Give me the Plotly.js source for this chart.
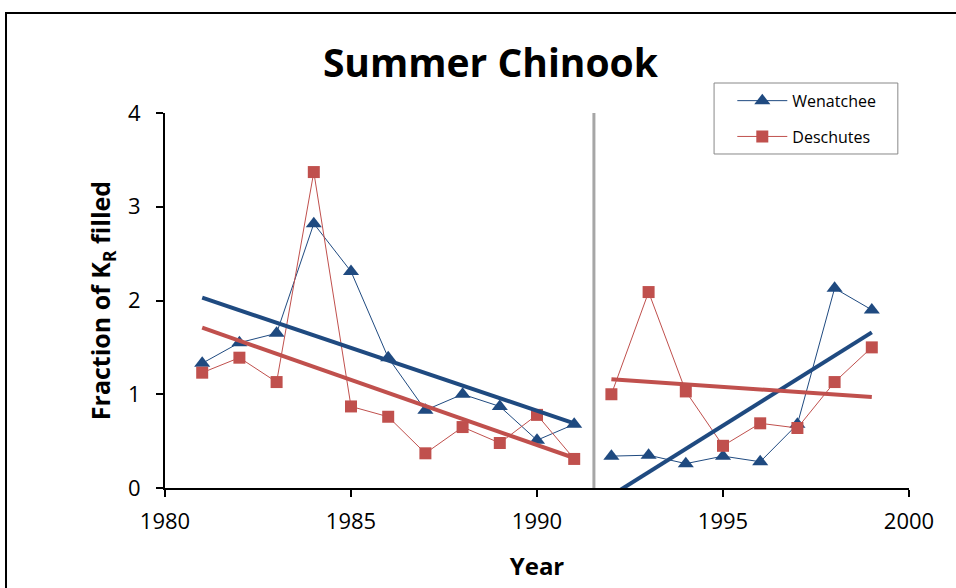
<!DOCTYPE html>
<html>
<head>
<meta charset="utf-8">
<script src="https://cdn.plot.ly/plotly-3.0.1.min.js"></script>
<style>
html,body{margin:0;padding:0;background:#fff;}
#chart{width:956px;height:588px;}
</style>
</head>
<body>
<div id="chart"></div>
<script>
// Data
const years1 = [1981,1982,1983,1984,1985,1986,1987,1988,1989,1990,1991];
const years2 = [1992,1993,1994,1995,1996,1997,1998,1999];
const wenatchee1 = [1.33,1.55,1.65,2.82,2.31,1.39,0.83,1.00,0.87,0.51,0.68];
const wenatchee2 = [0.34,0.35,0.26,0.34,0.28,0.68,2.13,1.90];
const deschutes1 = [1.23,1.39,1.13,3.37,0.87,0.76,0.37,0.65,0.48,0.78,0.31];
const deschutes2 = [1.00,2.09,1.03,0.45,0.69,0.64,1.13,1.50];
// Trend line endpoints
const trendX1 = [1981,1991];
const trendX2 = [1992,1999];
const wenTrend1 = [2.03,0.69];
const wenTrend2 = [-0.08,1.66];
const desTrend1 = [1.71,0.32];
const desTrend2 = [1.16,0.97];
const breakYear = 1991.53;

const blue = '#1F4A80';
const red = '#C0504D';

const wStyle = {line: {color: blue, width: 1}, marker: {symbol: 'triangle-up', size: 14, color: blue}};
const dStyle = {line: {color: red, width: 1}, marker: {symbol: 'square', size: 12, color: red}};

const traces = [
  Object.assign({x: years1, y: wenatchee1, name: 'Wenatchee', mode: 'lines+markers', legendgroup: 'w'}, wStyle),
  Object.assign({x: years2, y: wenatchee2, name: 'Wenatchee', mode: 'lines+markers', legendgroup: 'w', showlegend: false}, wStyle),
  Object.assign({x: years1, y: deschutes1, name: 'Deschutes', mode: 'lines+markers', legendgroup: 'd'}, dStyle),
  Object.assign({x: years2, y: deschutes2, name: 'Deschutes', mode: 'lines+markers', legendgroup: 'd', showlegend: false}, dStyle),
  {x: trendX1, y: wenTrend1, mode: 'lines', showlegend: false, line: {color: blue, width: 4}},
  {x: trendX1, y: desTrend1, mode: 'lines', showlegend: false, line: {color: red, width: 4}},
  {x: trendX2, y: wenTrend2, mode: 'lines', showlegend: false, line: {color: blue, width: 4}},
  {x: trendX2, y: desTrend2, mode: 'lines', showlegend: false, line: {color: red, width: 4}}
];

const font = 'Open Sans, Liberation Sans, sans-serif';
const layout = {
  width: 956, height: 588,
  margin: {l: 165, r: 47, t: 113, b: 100},
  paper_bgcolor: '#fff', plot_bgcolor: '#fff',
  showlegend: true,
  title: {text: '<b>Summer Chinook</b>', font: {family: font, size: 39, color: '#000'},
          x: 0.513, xanchor: 'center', y: 0.892, yanchor: 'middle'},
  xaxis: {range: [1980, 2000], tickvals: [1980,1985,1990,1995,2000], ticktext: ['1980','1985','1990','1995','2000'],
          showgrid: false, zeroline: false, showline: true, linecolor: '#000', linewidth: 2,
          ticks: 'outside', ticklen: 7, tickwidth: 2, tickcolor: '#000', ticklabelstandoff: 6,
          tickfont: {family: font, size: 22, color: '#000'},
          title: {text: '<b>Year</b>', font: {family: font, size: 24, color: '#000'}, standoff: 24}},
  yaxis: {range: [0, 4], tickvals: [0,1,2,3,4], showgrid: false, zeroline: false, showline: true,
          linecolor: '#000', linewidth: 2, ticks: 'outside', ticklen: 7, tickwidth: 2, tickcolor: '#000',
          ticklabelstandoff: 11,
          tickfont: {family: font, size: 22, color: '#000'},
          title: {text: '<b>Fraction of K<sub>R</sub> filled</b>', font: {family: font, size: 25, color: '#000'}, standoff: 10}},
  legend: {x: 0.7625, y: 1.078, xanchor: 'left', yanchor: 'top', bgcolor: 'rgba(0,0,0,0)',
           borderwidth: 0, font: {family: font, size: 16, color: '#000'},
           itemwidth: 50, tracegroupgap: 12},
  shapes: [
    {type: 'line', xref: 'x', yref: 'paper', x0: breakYear, x1: breakYear, y0: 0, y1: 1,
     line: {color: '#A6A6A6', width: 3}},
    {type: 'rect', xref: 'paper', yref: 'paper', x0: -0.2137, x1: 1.07, y0: -0.32, y1: 1.2667,
     line: {color: '#000', width: 2}, fillcolor: 'rgba(0,0,0,0)', layer: 'below'},
    {type: 'rect', xref: 'paper', yref: 'paper', x0: 0.738, x1: 0.985, y0: 0.8907, y1: 1.08,
     line: {color: '#888', width: 1}, fillcolor: 'rgba(0,0,0,0)', layer: 'above'}
  ]
};
Plotly.newPlot('chart', traces, layout, {displayModeBar: false, staticPlot: true});
</script>
</body>
</html>
